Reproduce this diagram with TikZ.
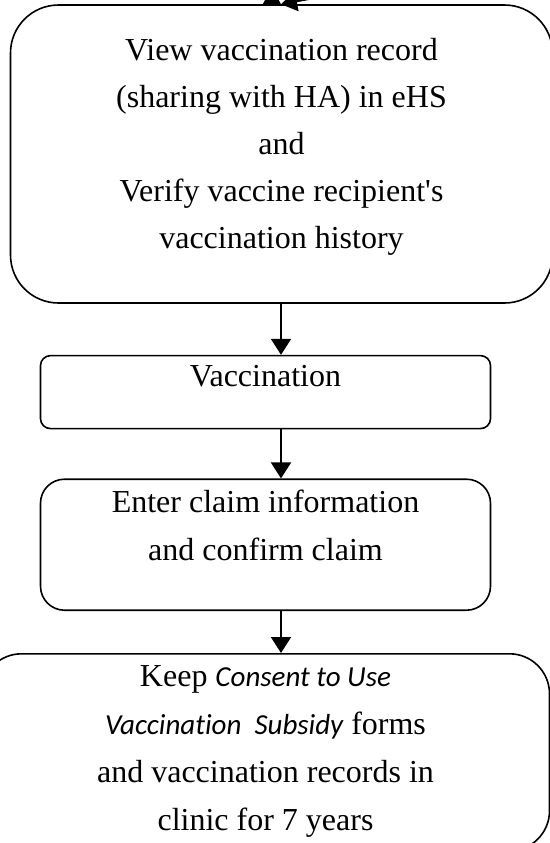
\documentclass[tikz,border=0pt]{standalone}
\usepackage{fontspec}
\setmainfont{Liberation Serif}
\newfontfamily\calibrifont[Ligatures=NoCommon]{Carlito}
\usetikzlibrary{arrows.meta, positioning}

\begin{document}
\begin{tikzpicture}[
    x=0.5pt, y=-0.5pt,
    font=\fontsize{16pt}{23.5pt}\selectfont,
    box/.style={draw, line width=0.8pt, align=center, inner sep=0pt},
    viewbox/.style={box, rounded corners=24pt, minimum width=271pt, minimum height=149pt},
    stepbox/.style={box, rounded corners=5pt, minimum width=225pt},
    keepbox/.style={box, rounded corners=20pt, minimum width=284pt, minimum height=98.5pt, font=\fontsize{16pt}{24pt}\selectfont},
    arrow/.style={-{Triangle[length=8pt, width=10pt]}, line width=1pt}
]
\useasboundingbox (0,0) rectangle (550,843);

\coordinate (axis) at (281,0);
\coordinate (inleft) at (215,-32);
\coordinate (inright) at (420,-22);

\node[viewbox] (view) at (281.5,154) {\rule{0pt}{27.5pt}View vaccination record\\(sharing with HA) in eHS\\and\\Verify vaccine recipient\textquotesingle s\\vaccination history\rule[-27.5pt]{0pt}{27.5pt}};
\node[stepbox, minimum height=36.5pt, below=25.5pt of view, xshift=-8pt] (vacc) {Vaccination\rule[-16.5pt]{0pt}{16.5pt}};
\node[stepbox, rounded corners=12pt, minimum height=65.5pt, below=24.5pt of vacc, font=\fontsize{16pt}{24pt}\selectfont] (claim) {Enter claim information\\and confirm claim\rule[-19.5pt]{0pt}{19.5pt}};
\node[keepbox, below=21pt of claim] (keep) {\rule{0pt}{16.5pt}Keep {\calibrifont\itshape\fontsize{14.5pt}{24pt}\selectfont Consent to Use}\\{\calibrifont\itshape\fontsize{14.5pt}{24pt}\selectfont Vaccination~ Subsidy} forms\\and vaccination records in\\clinic for 7 years\rule[-10pt]{0pt}{10pt}};

\draw[arrow] (inleft) -- (view.north -| axis);
\draw[arrow] (inright) -- (view.north -| axis);
\draw[arrow] (view.south -| axis) -- (vacc.north -| axis);
\draw[arrow] (vacc.south -| axis) -- (claim.north -| axis);
\draw[arrow] (claim.south -| axis) -- (keep.north -| axis);
\end{tikzpicture}
\end{document}
